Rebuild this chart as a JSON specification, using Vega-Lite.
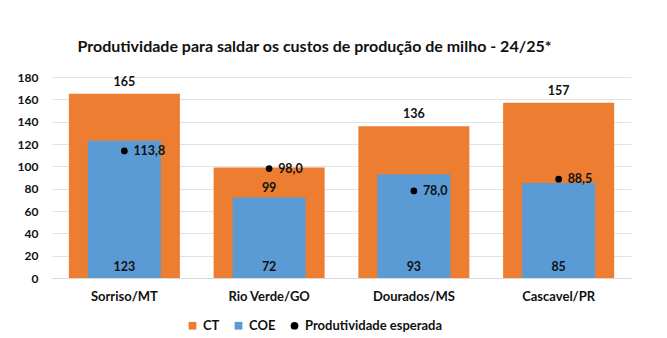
{
  "$schema": "https://vega.github.io/schema/vega-lite/v6.json",
  "autosize": {"type": "none"},
  "width": 579,
  "height": 201,
  "padding": {"left": 52, "top": 77, "right": 36, "bottom": 60},
  "background": "white",
  "title": {
    "text": "Produtividade para saldar os custos de produção de milho - 24/25*",
    "font": "Lato",
    "fontSize": 16,
    "fontWeight": "bold",
    "color": "#111111",
    "anchor": "middle",
    "dx": -27,
    "offset": 16
  },
  "config": {
    "locale": {"number": {"decimal": ",", "thousands": ".", "grouping": [3], "currency": ["R$", ""]}},
    "font": "Lato",
    "view": {"stroke": null},
    "axis": {"labelFont": "Lato", "labelFontWeight": "bold", "labelColor": "#111111", "title": null},
    "axisY": {"tickCount": 10, "labelOverlap": false, "labelFontSize": 12, "labelPadding": 14, "ticks": false, "domain": false, "gridColor": "#e3e3e3"}
  },
  "data": {
    "values": [
      {"local": "Sorriso/MT", "CT": 165, "COE": 123, "prod": 113.8},
      {"local": "Rio Verde/GO", "CT": 99, "COE": 72, "prod": 98.0},
      {"local": "Dourados/MS", "CT": 136, "COE": 93, "prod": 78.0},
      {"local": "Cascavel/PR", "CT": 157, "COE": 85, "prod": 88.5}
    ]
  },
  "encoding": {
    "x": {
      "field": "local",
      "type": "nominal",
      "sort": null,
      "scale": {"paddingInner": 0, "paddingOuter": 0},
      "axis": {"labelAngle": 0, "labelFontSize": 13, "labelPadding": 12, "ticks": false, "domainColor": "#d9d9d9", "grid": false}
    }
  },
  "layer": [
    {
      "mark": {"type": "bar", "width": {"band": 0.767}},
      "encoding": {
        "y": {
          "field": "CT", "type": "quantitative",
          "scale": {"domain": [0, 180]},
          "axis": {"values": [0, 20, 40, 60, 80, 100, 120, 140, 160, 180]}
        },
        "color": {
          "datum": "CT",
          "scale": {"domain": ["CT", "COE", "Produtividade esperada"], "range": ["#ED7D31", "#5B9BD5", "#000000"]},
          "legend": {
            "title": null,
            "orient": "none",
            "legendX": 134,
            "legendY": 242,
            "direction": "horizontal",
            "labelFont": "Lato",
            "labelFontWeight": "bold",
            "labelFontSize": 13,
            "labelColor": "#111111",
            "symbolSize": 60,
            "columnPadding": 12,
            "labelOffset": 4,
            "encode": {"symbols": {"update": {"shape": {"signal": "datum.value == 'Produtividade esperada' ? 'circle' : 'square'"}, "strokeWidth": {"value": 0}}}}
          }
        }
      }
    },
    {
      "mark": {"type": "bar", "width": {"band": 0.504}},
      "encoding": {
        "y": {"field": "COE", "type": "quantitative", "axis": {"values": [0, 20, 40, 60, 80, 100, 120, 140, 160, 180]}},
        "color": {"datum": "COE"}
      }
    },
    {
      "transform": [{"filter": "datum.local != 'Rio Verde/GO'"}],
      "mark": {"type": "text", "baseline": "middle", "dy": -12, "fontWeight": "bold", "fontSize": 12.5, "color": "#111111"},
      "encoding": {"y": {"field": "CT", "type": "quantitative", "axis": {"values": [0, 20, 40, 60, 80, 100, 120, 140, 160, 180]}}, "text": {"field": "CT", "type": "quantitative"}}
    },
    {
      "transform": [{"filter": "datum.local == 'Rio Verde/GO'"}],
      "mark": {"type": "text", "baseline": "middle", "dy": 21, "fontWeight": "bold", "fontSize": 12.5, "color": "#111111"},
      "encoding": {"y": {"field": "CT", "type": "quantitative", "axis": {"values": [0, 20, 40, 60, 80, 100, 120, 140, 160, 180]}}, "text": {"field": "CT", "type": "quantitative"}}
    },
    {
      "mark": {"type": "text", "baseline": "middle", "dy": -11, "fontWeight": "bold", "fontSize": 12.5, "color": "#111111"},
      "encoding": {"y": {"datum": 0, "type": "quantitative", "axis": {"values": [0, 20, 40, 60, 80, 100, 120, 140, 160, 180]}}, "text": {"field": "COE", "type": "quantitative"}}
    },
    {
      "mark": {"type": "point", "filled": true, "size": 45, "opacity": 1},
      "encoding": {
        "y": {"field": "prod", "type": "quantitative", "axis": {"values": [0, 20, 40, 60, 80, 100, 120, 140, 160, 180]}},
        "color": {"datum": "Produtividade esperada"},
        "shape": {"value": "circle"}
      }
    },
    {
      "mark": {"type": "text", "align": "left", "baseline": "middle", "dx": 9, "fontWeight": "bold", "fontSize": 12.5, "color": "#111111"},
      "encoding": {"y": {"field": "prod", "type": "quantitative", "axis": {"values": [0, 20, 40, 60, 80, 100, 120, 140, 160, 180]}}, "text": {"field": "prod", "type": "quantitative", "format": ".1f"}}
    }
  ]
}
